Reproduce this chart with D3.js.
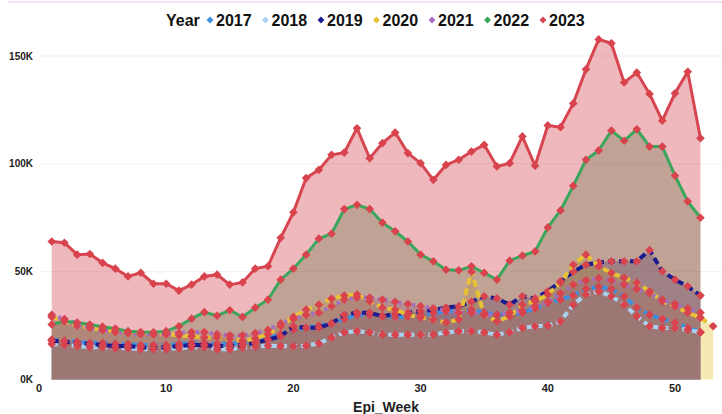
<!DOCTYPE html>
<html>
<head>
<meta charset="utf-8">
<script src="https://cdn.jsdelivr.net/npm/d3@7"></script>
<style>
  body { margin: 0; background: #fff; }
  svg { display: block; font-family: "Liberation Sans", Arial, sans-serif; }
</style>
</head>
<body>
<svg id="chart" width="722" height="414"></svg>
<script>
// casos por semana epidemiologica, en miles
const years = ["2017", "2018", "2019", "2020", "2021", "2022", "2023"];

const y2017 = [18.5,18,17.5,17,17,16.5,16.5,16,16,16, 16.5,17,17,16.5,16.5,17,18,19,21,23,
  24,25,26,28,30,30,29.5,29,29,30, 31,31.6,32,32.4,31,30,30,31,33,35.5,
  37,39,42,43,42,38.6,33.3,30,28,26.4, 24,22];
const y2018 = [16.5,16,15.5,15,15,14.5,14.5,14,14,14, 14.5,15,15,14,14,14.8,15.2,15.7,15.5,15.4,
  15.7,16.7,19.4,21.8,22.4,21.8,20.8,20.8,20.8,20.8, 20.8,21.8,22.4,22.4,21.8,20.8,21.9,23.9,24.7,25,
  27,34.7,39.4,40.9,38.6,34.7,29.3,24.7,23.9,23.9, 23.1,21.8];
const y2019 = [18,17.5,17,16.5,16,15.5,15.5,15,14.5,15, 15.5,16,16,15.5,15.5,16,17,18.5,20,24.7,
  24,24,26,30,31,31,29.3,30.5,31,31.6, 32.4,33.3,34,36,38.6,37.6,34.7,38.6,37.6,40.9,
  45.5,50,53.2,54.3,54.8,54.8,54.8,60,50.2,46.3, 43.2,38.9];
const y2020 = [29,27,25,24,23,22.5,22,21.5,21,21, 20.5,20,19.5,19.5,19,18,19,21,24.7,29,
  32.4,34.7,37.5,38.9,39.4,36.3,33.3,32.4,30,28.7, 27.8,26.4,27.8,50,30,27,29.3,34.7,36.3,39.4,
  44.9,53.2,57.9,52.5,49.4,47.2,44.9,40.9,36.3,33.9, 31,28.7,24.7];
const y2021 = [30,28,26,24,23,22,21.5,21,21,21, 21.5,22,22,21,20.5,20.5,21.5,23,26,28,
  30,31,34,37,38,38,37,36,35,34, 33,32,31,31,30,30,31,32,34,36,
  40,44,46,47,46,44,42,40,37,35, 33,31];
const y2022 = [25.5,27,26.4,25.5,24.5,23.6,22.4,22,21.9,22.4, 24.7,28.2,31.2,29.6,32.1,29,33.3,37,46.3,51.4,
  57.9,65.3,67.6,79,81,79,72.7,68.7,64,57.9, 54.8,50.9,50.6,52.5,49.4,46.3,55.1,57.4,59.4,70.5,
  78.4,89.8,101.9,106.2,115.4,110.7,116,108,108,94.5, 82.6,75];
const y2023 = [64,63.4,57.9,58.2,54.1,51.4,47.8,49.5,44.4,44.4, 41.2,44,47.8,48.6,44,45,51.4,52.5,65.7,77.5,
  93.4,97.2,104.2,105.2,116.5,102.6,109.6,114.5,105,100.3, 92.6,99.5,101.9,105.7,108.8,98.8,100.3,112.7,99.1,117.8,
  117,128,143.8,157.7,155.9,137.7,142.3,132.4,120,132.7, 142.7,111.9];

const yTicks = [0, 50, 100, 150];
const xTicks = [0, 10, 20, 30, 40, 50];

const colores = ["#3d8fe0", "#a9d3f0", "#1b1b8f", "#e8c234", "#a46fc4", "#3aa65c", "#d64550"];
const dashes = ["6,4", "6,4", "7,4", "7,4", "3,4", null, null];

const series = years.map((yr, i) => ({
  year: yr,
  color: colores[i],
  dash: dashes[i],
  values: [y2017, y2018, y2019, y2020, y2021, y2022, y2023][i].map((v, j) => ({ week: j + 1, cases: v }))
}));

const svg = d3.select("#chart");

const x = d3.scaleLinear().domain([0, 50]).range([39, 675]);
const y = d3.scaleLinear().domain([0, 150]).range([379.5, 56]);

// linea rosa superior
svg.append("line")
  .attr("x1", 8).attr("x2", 722).attr("y1", 2).attr("y2", 2)
  .attr("stroke", "#eccbe9").attr("stroke-width", 1.2);

// grid
svg.append("g").selectAll("line").data(yTicks.slice(1)).enter()
  .append("line")
  .attr("x1", 40).attr("x2", 722)
  .attr("y1", d => y(d)).attr("y2", d => y(d))
  .attr("stroke", "#efefef").attr("stroke-width", 1);

const area = d3.area()
  .x(d => x(d.week))
  .y0(y(0))
  .y1(d => y(d.cases));

const line = d3.line()
  .x(d => x(d.week))
  .y(d => y(d.cases));

svg.append("g").selectAll("path").data(series).enter()
  .append("path")
  .attr("d", d => area(d.values))
  .attr("fill", d => d.color)
  .attr("fill-opacity", 0.38);

const g = svg.append("g").selectAll("g").data(series).enter().append("g");

g.append("path")
  .attr("d", d => line(d.values))
  .attr("fill", "none")
  .attr("stroke", d => d.color)
  .attr("stroke-width", d => d.dash ? 4 : 3)
  .attr("stroke-dasharray", d => d.dash);

const diamond = d3.symbol().type(d3.symbolDiamond2).size(48);

g.selectAll(".point").data(d => d.values).enter()
  .append("path")
  .attr("class", "point")
  .attr("transform", d => `translate(${x(d.week)},${y(d.cases)})`)
  .attr("d", diamond)
  .attr("fill", "#d9434e");

// ejes
svg.append("g").selectAll("text").data(yTicks).enter()
  .append("text")
  .attr("x", 33)
  .attr("y", d => y(d))
  .attr("dy", "0.35em")
  .attr("text-anchor", "end")
  .attr("font-size", 10)
  .attr("font-weight", "bold")
  .attr("fill", "#222")
  .text(d => d + "K");

svg.append("g").selectAll("text").data(xTicks).enter()
  .append("text")
  .attr("x", d => x(d))
  .attr("y", 392)
  .attr("text-anchor", "middle")
  .attr("font-size", 11)
  .attr("font-weight", "bold")
  .attr("fill", "#222")
  .text(d => d);

svg.append("text")
  .attr("x", 386)
  .attr("y", 412)
  .attr("text-anchor", "middle")
  .attr("font-size", 14)
  .attr("font-weight", "bold")
  .attr("fill", "#222")
  .text("Epi_Week");

// leyenda
const leg = svg.append("g");
leg.append("text")
  .attr("x", 166).attr("y", 26)
  .attr("font-size", 16).attr("font-weight", "bold").attr("fill", "#111")
  .text("Year");

const items = leg.selectAll(".item").data(series).enter()
  .append("g")
  .attr("class", "item")
  .attr("transform", (d, i) => `translate(${210 + i * 55.5},20)`);

items.append("path")
  .attr("d", d3.symbol().type(d3.symbolDiamond2).size(30))
  .attr("fill", d => d.color);

items.append("text")
  .attr("x", 6).attr("y", 6)
  .attr("font-size", 16).attr("font-weight", "bold").attr("fill", "#111")
  .text(d => d.year);
</script>
</body>
</html>
